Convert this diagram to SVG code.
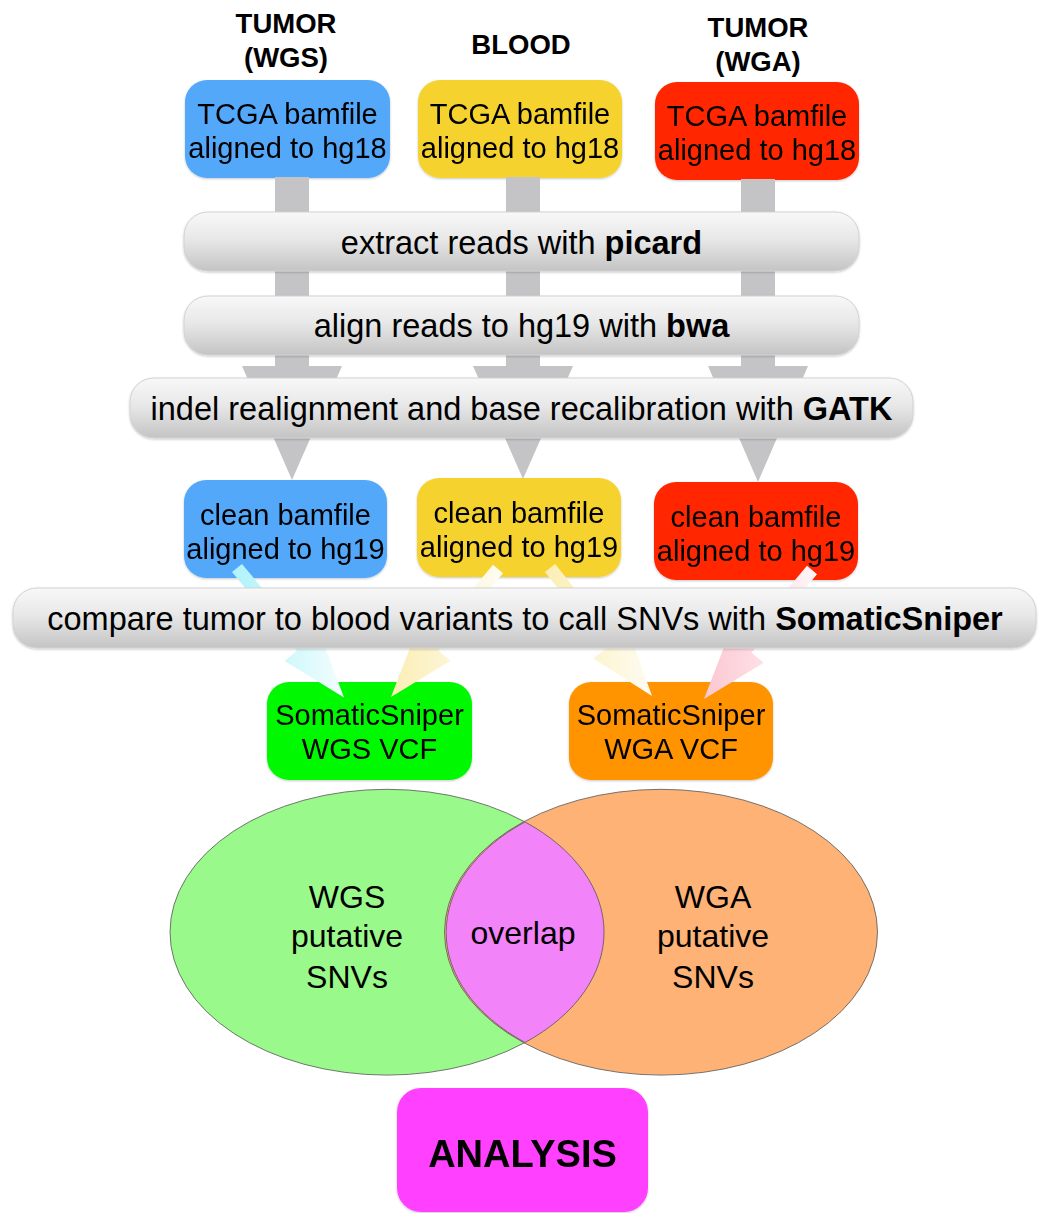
<svg xmlns="http://www.w3.org/2000/svg" width="1042" height="1213" viewBox="0 0 1042 1213">
  <defs>
    <style>
      .t { font-family: "Liberation Sans", Arial, sans-serif; fill: #000; text-anchor: middle; }
      .box { font-size: 29px; }
      .bar { font-size: 32.5px; }
      .hdr { font-size: 27.5px; font-weight: bold; }
      .venn { font-size: 32px; }
      b, .b { font-weight: bold; }
      .stem { fill: #c4c4c6; }
      .barshape { fill: url(#barGrad); stroke: #d2d2d2; stroke-width: 1; filter: url(#shadow); }
      .node { filter: url(#shadow); }
      .ell { stroke: #555; stroke-width: 0.8; }
    </style>
    <linearGradient id="barGrad" x1="0" y1="0" x2="0" y2="1">
      <stop offset="0" stop-color="#f8f8f8"/>
      <stop offset="0.45" stop-color="#e8e8e8"/>
      <stop offset="1" stop-color="#c4c4c4"/>
    </linearGradient>
    <linearGradient id="cyanGrad" x1="0" y1="0" x2="1" y2="0">
      <stop offset="0" stop-color="#aef3fa"/>
      <stop offset="1" stop-color="#f4fdfe"/>
    </linearGradient>
    <linearGradient id="yellowGrad" x1="0" y1="0" x2="1" y2="0">
      <stop offset="0" stop-color="#fbeeb4"/>
      <stop offset="1" stop-color="#fefcf3"/>
    </linearGradient>
    <linearGradient id="pinkGrad" x1="0" y1="0" x2="1" y2="0">
      <stop offset="0" stop-color="#fcc7d2"/>
      <stop offset="1" stop-color="#fff6f8"/>
    </linearGradient>
    <filter id="shadow" x="-5%" y="-10%" width="110%" height="130%">
      <feDropShadow dx="0" dy="1" stdDeviation="1.2" flood-color="#000" flood-opacity="0.22"/>
    </filter>
  </defs>

  <rect width="1042" height="1213" fill="#fff"/>

  <!-- headers -->
  <g id="headers">
    <text class="t hdr" x="286" y="33">TUMOR</text>
    <text class="t hdr" x="286" y="67">(WGS)</text>
    <text class="t hdr" x="521" y="54">BLOOD</text>
    <text class="t hdr" x="758" y="37">TUMOR</text>
    <text class="t hdr" x="758" y="71">(WGA)</text>
  </g>

  <!-- top input nodes -->
  <g id="tumor-wgs-input" class="node">
    <rect x="185" y="80" width="205" height="98" rx="22" fill="#52a8fa"/>
    <text class="t box" x="287.5" y="124">TCGA bamfile</text>
    <text class="t box" x="287.5" y="158">aligned to hg18</text>
  </g>
  <g id="blood-input" class="node">
    <rect x="418" y="80" width="204" height="98" rx="22" fill="#f5d22e"/>
    <text class="t box" x="520" y="124">TCGA bamfile</text>
    <text class="t box" x="520" y="158">aligned to hg18</text>
  </g>
  <g id="tumor-wga-input" class="node">
    <rect x="655" y="82" width="204" height="98" rx="22" fill="#ff2600"/>
    <text class="t box" x="757" y="126">TCGA bamfile</text>
    <text class="t box" x="757" y="160">aligned to hg18</text>
  </g>

  <!-- clean bam nodes -->
  <g id="tumor-wgs-clean" class="node">
    <rect x="184" y="480" width="203" height="98" rx="22" fill="#52a8fa"/>
    <text class="t box" x="285.5" y="525">clean bamfile</text>
    <text class="t box" x="285.5" y="559">aligned to hg19</text>
  </g>
  <g id="blood-clean" class="node">
    <rect x="417" y="478" width="204" height="99" rx="22" fill="#f5d22e"/>
    <text class="t box" x="519" y="523">clean bamfile</text>
    <text class="t box" x="519" y="557">aligned to hg19</text>
  </g>
  <g id="tumor-wga-clean" class="node">
    <rect x="654" y="482" width="204" height="98" rx="22" fill="#ff2600"/>
    <text class="t box" x="756" y="527">clean bamfile</text>
    <text class="t box" x="756" y="561">aligned to hg19</text>
  </g>

  <!-- VCF nodes -->
  <g id="wgs-vcf" class="node">
    <rect x="267" y="682" width="205" height="98" rx="22" fill="#00f900"/>
    <text class="t box" x="369.5" y="725">SomaticSniper</text>
    <text class="t box" x="369.5" y="759">WGS VCF</text>
  </g>
  <g id="wga-vcf" class="node">
    <rect x="569" y="682" width="204" height="98" rx="22" fill="#ff9300"/>
    <text class="t box" x="671" y="725">SomaticSniper</text>
    <text class="t box" x="671" y="759">WGA VCF</text>
  </g>

  <!-- connectors -->
  <g id="connectors">
    <rect class="stem" x="275" y="177" width="34" height="192"/>
    <rect class="stem" x="506" y="177" width="34" height="192"/>
    <rect class="stem" x="741" y="179" width="34" height="190"/>
    <polygon class="stem" points="242,366 342,366 292,480"/>
    <polygon class="stem" points="473,366 573,366 523,479"/>
    <polygon class="stem" points="708,366 808,366 758,482"/>

    <polygon fill="url(#cyanGrad)" points="242.0,563.9 307.0,642.5 319.3,632.3 344,697.5 284.7,660.9 297.0,650.7 232.0,572.1"/>
    <polygon fill="url(#yellowGrad)" points="503.0,573.2 438.3,650.6 450.6,660.8 391,697 416.1,632.0 428.3,642.2 493.0,564.8"/>
    <polygon fill="url(#yellowGrad)" points="555.1,563.9 616.0,640.3 628.5,630.4 652,696 593.3,658.4 605.8,648.5 544.9,572.1"/>
    <polygon fill="url(#pinkGrad)" points="817.0,574.2 751.4,652.6 763.7,662.8 704,699 729.1,634.0 741.4,644.2 807.0,565.8"/>
  </g>

  <!-- process bars -->
  <g id="picard-step">
    <rect class="barshape" x="184" y="212" width="675" height="59" rx="24"/>
    <text class="t bar" x="521.5" y="254">extract reads with <tspan class="b">picard</tspan></text>
  </g>
  <g id="bwa-step">
    <rect class="barshape" x="184" y="296" width="675" height="59" rx="24"/>
    <text class="t bar" x="521.5" y="337">align reads to hg19 with <tspan class="b">bwa</tspan></text>
  </g>
  <g id="gatk-step">
    <rect class="barshape" x="130" y="378" width="783" height="60" rx="24"/>
    <text class="t bar" x="521.5" y="420">indel realignment and base recalibration with <tspan class="b">GATK</tspan></text>
  </g>
  <g id="somaticsniper-step">
    <rect class="barshape" x="13" y="588" width="1023" height="60" rx="24"/>
    <text class="t bar" x="525" y="630">compare tumor to blood variants to call SNVs with <tspan class="b">SomaticSniper</tspan></text>
  </g>

  <!-- venn -->
  <g id="venn-wgs">
    <ellipse class="ell" cx="387" cy="932.2" rx="217" ry="142.9" fill="#99f98a"/>
    <text class="t venn" x="347" y="908">WGS</text>
    <text class="t venn" x="347" y="947">putative</text>
    <text class="t venn" x="347" y="988">SNVs</text>
  </g>
  <g id="venn-wga">
    <ellipse class="ell" cx="661" cy="932.2" rx="216.5" ry="142.9" fill="#feb276"/>
    <text class="t venn" x="713" y="908">WGA</text>
    <text class="t venn" x="713" y="947">putative</text>
    <text class="t venn" x="713" y="988">SNVs</text>
  </g>
  <g id="venn-overlap">
    <path class="ell" fill="#f383f8" d="M525,821.9 A216.5,142.9 0 0 0 525,1042.5 A217,142.9 0 0 0 525,821.9 Z"/>
    <text class="t venn" x="523" y="944">overlap</text>
  </g>

  <!-- analysis -->
  <g id="analysis" class="node">
    <rect x="397" y="1088" width="251" height="124" rx="24" fill="#ff40ff"/>
    <text class="t" x="522.5" y="1167" style="font-size:38px;font-weight:bold">ANALYSIS</text>
  </g>
</svg>
